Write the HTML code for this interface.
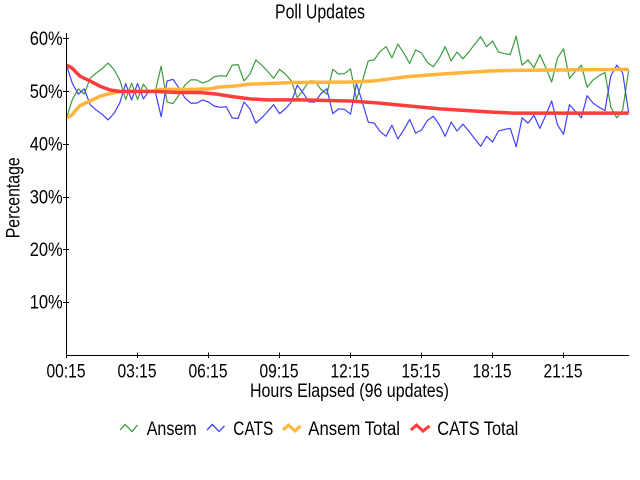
<!DOCTYPE html>
<html>
<head>
<meta charset="utf-8">
<style>
  html, body { margin: 0; padding: 0; background: #ffffff; }
  svg { display: block; }
  text { font-family: "Liberation Sans Narrow", "Liberation Sans", sans-serif; fill: #000; }
</style>
</head>
<body>
<svg width="640" height="480" viewBox="0 0 640 480" xmlns="http://www.w3.org/2000/svg">
  <rect x="0" y="0" width="640" height="480" fill="#ffffff"/>

  <!-- Title -->
  <text x="275" y="18.3" font-size="20" textLength="90" lengthAdjust="spacingAndGlyphs">Poll Updates</text>

  <!-- Series: green (Ansem), blue (CATS) in data coords -->
  <g transform="translate(66.5,355) scale(5.917,-5.27)" fill="none" stroke-linejoin="round" stroke-linecap="round">
    <polyline vector-effect="non-scaling-stroke" stroke="#3c9c3c" stroke-width="1.2" points="
      0,45 1,48.5 2,50.5 3,49.5 4,52.5 5,53.5 6,54.3 7,55.4 8,54.2 9,52.2
      10,48.5 11,51.6 12,48.5 13,51.4 14,49.8 15,50 16,54.8 17,48 18,47.7 19,49.3
      20,51.2 21,52.2 22,52.2 23,51.6 24,52 25,52.8 26,53 27,52.9 28,55 29,55.1
      30,52 31,53.3 32,56 33,55 34,53.8 35,52.5 36,54.2 37,53.3 38,52 39,48.8
      40,50.3 41,52 42,52 43,50.4 44,49.5 45,54.2 46,53.3 47,53.4 48,54.3 49,48.5
      50,52 51,55.8 52,56 53,57.6 54,58.5 55,56.4 56,59 57,57.3 58,55.3 59,57.9
      60,57.3 61,55.5 62,54.7 63,56.3 64,58.5 65,55.8 66,57.5 67,56.2 68,57.5 69,59
      70,60.4 71,58.5 72,59.6 73,57.5 74,57.2 75,57 76,60.5 77,55 78,56 79,54.5
      80,57 81,54.5 82,51.8 83,56.4 84,58.1 85,52.5 86,53.8 87,55 88,50.8 89,52.2
      90,53 91,53.6 92,47 93,45 94,46.5 95,54"/>
    <polyline vector-effect="non-scaling-stroke" stroke="#4040ff" stroke-width="1.2" points="
      0,55 1,51.5 2,49.5 3,50.5 4,47.5 5,46.5 6,45.7 7,44.6 8,45.8 9,47.8
      10,51.5 11,48.4 12,51.5 13,48.6 14,50.2 15,50 16,45.2 17,52 18,52.3 19,50.7
      20,48.8 21,47.8 22,47.8 23,48.4 24,48 25,47.2 26,47 27,47.1 28,45 29,44.9
      30,48 31,46.7 32,44 33,45 34,46.2 35,47.5 36,45.8 37,46.7 38,48 39,51.2
      40,49.7 41,48 42,48 43,49.6 44,50.5 45,45.8 46,46.7 47,46.6 48,45.7 49,51.5
      50,48 51,44.2 52,44 53,42.4 54,41.5 55,43.6 56,41 57,42.7 58,44.7 59,42.1
      60,42.7 61,44.5 62,45.3 63,43.7 64,41.5 65,44.2 66,42.5 67,43.8 68,42.5 69,41
      70,39.6 71,41.5 72,40.4 73,42.5 74,42.8 75,43 76,39.5 77,45 78,44 79,45.5
      80,43 81,45.5 82,48.2 83,43.6 84,41.9 85,47.5 86,46.2 87,45 88,49.2 89,47.8
      90,47 91,46.4 92,53 93,55 94,53.5 95,46"/>
  </g>

  <!-- Totals: x in pixels, y in percent -->
  <g transform="translate(0,355) scale(1,-5.27)" fill="none" stroke-linejoin="round" stroke-linecap="butt">
    <polyline vector-effect="non-scaling-stroke" stroke="#ffb43c" stroke-width="3.5" points="
      66.5,45 71.7,45.5 75,46.3 80,47.3 90,48.2 100,49.1 110,49.6 120,50 153,50.1 160,50.4
      193,50.4 210,50.5 216.7,50.8 233,51 250,51.4 266.7,51.5 293,51.7 350,51.8 373,52
      406.7,52.8 440,53.3 490,53.9 513,54 628.6,54.2"/>
    <polyline vector-effect="non-scaling-stroke" stroke="#ff3c3c" stroke-width="3.5" points="
      66.5,55 71.7,54.5 80,52.9 90,52 100,51 110,50.3 120,50 156.7,50 176.7,49.8 200,49.8
      216.7,49.5 233.3,49 250,48.6 266.7,48.4 300,48.4 350,48.2 373,47.9 406.7,47.3
      440,46.7 490,46.1 513,45.9 628.6,45.9"/>
  </g>

  <!-- Axes -->
  <g stroke="#000" stroke-width="1" fill="none">
    <line x1="66.5" y1="33" x2="66.5" y2="355.5"/>
    <line x1="66" y1="355.5" x2="629" y2="355.5"/>
    <!-- y ticks -->
    <line x1="63" y1="302.5" x2="69" y2="302.5"/>
    <line x1="63" y1="249.5" x2="69" y2="249.5"/>
    <line x1="63" y1="197.5" x2="69" y2="197.5"/>
    <line x1="63" y1="144.5" x2="69" y2="144.5"/>
    <line x1="63" y1="91.5" x2="69" y2="91.5"/>
    <line x1="63" y1="38.5" x2="69" y2="38.5"/>
    <!-- x ticks -->
    <line x1="66.5" y1="352.5" x2="66.5" y2="358"/>
    <line x1="137.5" y1="352.5" x2="137.5" y2="358"/>
    <line x1="208.5" y1="352.5" x2="208.5" y2="358"/>
    <line x1="279.5" y1="352.5" x2="279.5" y2="358"/>
    <line x1="350.5" y1="352.5" x2="350.5" y2="358"/>
    <line x1="421.5" y1="352.5" x2="421.5" y2="358"/>
    <line x1="492.5" y1="352.5" x2="492.5" y2="358"/>
    <line x1="563.5" y1="352.5" x2="563.5" y2="358"/>
  </g>

  <!-- Y tick labels -->
  <g font-size="19.5" text-anchor="end">
    <text x="62.7" y="308.7" textLength="33" lengthAdjust="spacingAndGlyphs">10%</text>
    <text x="62.7" y="256" textLength="33" lengthAdjust="spacingAndGlyphs">20%</text>
    <text x="62.7" y="203.3" textLength="33" lengthAdjust="spacingAndGlyphs">30%</text>
    <text x="62.7" y="150.6" textLength="33" lengthAdjust="spacingAndGlyphs">40%</text>
    <text x="62.7" y="97.9" textLength="33" lengthAdjust="spacingAndGlyphs">50%</text>
    <text x="62.7" y="45.2" textLength="33" lengthAdjust="spacingAndGlyphs">60%</text>
  </g>

  <!-- X tick labels -->
  <g font-size="19.5" text-anchor="middle">
    <text x="66" y="377.3" textLength="39" lengthAdjust="spacingAndGlyphs">00:15</text>
    <text x="137" y="377.3" textLength="39" lengthAdjust="spacingAndGlyphs">03:15</text>
    <text x="208" y="377.3" textLength="39" lengthAdjust="spacingAndGlyphs">06:15</text>
    <text x="279" y="377.3" textLength="39" lengthAdjust="spacingAndGlyphs">09:15</text>
    <text x="350" y="377.3" textLength="39" lengthAdjust="spacingAndGlyphs">12:15</text>
    <text x="421" y="377.3" textLength="39" lengthAdjust="spacingAndGlyphs">15:15</text>
    <text x="492" y="377.3" textLength="39" lengthAdjust="spacingAndGlyphs">18:15</text>
    <text x="563" y="377.3" textLength="39" lengthAdjust="spacingAndGlyphs">21:15</text>
  </g>

  <!-- Axis titles -->
  <text x="250" y="397" font-size="19.5" textLength="199" lengthAdjust="spacingAndGlyphs">Hours Elapsed (96 updates)</text>
  <text transform="translate(19.3,238.3) rotate(-90)" x="0" y="0" font-size="19.5" textLength="81" lengthAdjust="spacingAndGlyphs">Percentage</text>

  <!-- Legend -->
  <g fill="none" stroke-linejoin="miter">
    <polyline stroke="#3c9c3c" stroke-width="1.3" points="120,430 125,424.5 132,431.5 137.5,425"/>
    <polyline stroke="#4040ff" stroke-width="1.3" points="207,430 212.3,424.5 219,431.5 224.5,426"/>
    <polyline stroke="#ffb43c" stroke-width="3" points="283,430 288.5,425 295,431 300.5,426"/>
    <polyline stroke="#ff3c3c" stroke-width="3" points="411,430 416.5,425 423,431 429.5,426"/>
  </g>
  <g font-size="19">
    <text x="146.7" y="435" textLength="50" lengthAdjust="spacingAndGlyphs">Ansem</text>
    <text x="233.3" y="435" textLength="40" lengthAdjust="spacingAndGlyphs">CATS</text>
    <text x="308.3" y="435" textLength="91.7" lengthAdjust="spacingAndGlyphs">Ansem Total</text>
    <text x="437.3" y="435" textLength="81" lengthAdjust="spacingAndGlyphs">CATS Total</text>
  </g>
</svg>
</body>
</html>
